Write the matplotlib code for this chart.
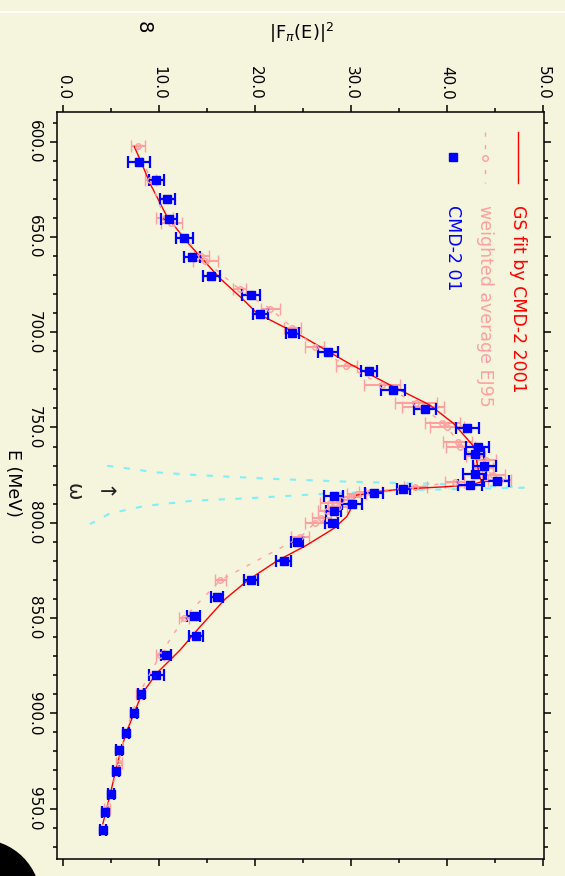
import numpy as np
import matplotlib.pyplot as plt
from matplotlib.ticker import MultipleLocator, FormatStrFormatter
from matplotlib.patches import Ellipse
from matplotlib.lines import Line2D

# CMD-2 01 data: energy (MeV), |F_pi|^2, error
E_cmd = [610.5, 620.3, 630.2, 640.6, 650.6, 660.5, 670.5, 680.6, 690.4, 700.4,
         710.4, 720.2, 730.3, 740.3, 750.5, 760.4, 764.0, 770.2, 774.4, 778.1,
         780.2, 782.5, 784.4, 786.2, 790.2, 793.6, 800.0, 810.1, 820.0, 830.1,
         839.0, 849.2, 859.6, 869.6, 880.0, 889.9, 900.1, 910.2, 919.5, 930.3,
         942.4, 951.9, 961.3]
F_cmd = [7.95, 9.72, 10.86, 11.07, 12.64, 13.47, 15.45, 19.6, 20.55, 23.9,
         27.6, 31.9, 34.4, 37.7, 42.1, 43.2, 42.9, 43.9, 42.9, 45.2,
         42.4, 35.45, 32.4, 28.2, 30.1, 28.2, 28.0, 24.4, 23.0, 19.6,
         16.05, 13.6, 13.85, 10.7, 9.72, 8.09, 7.43, 6.6, 5.87, 5.49,
         5.03, 4.41, 4.2]
dF_cmd = [1.13, 0.75, 0.8, 0.85, 0.9, 0.83, 0.87, 0.95, 0.78, 0.68,
          1.0, 0.83, 1.23, 1.1, 1.2, 1.2, 1.0, 1.2, 1.2, 1.3,
          1.25, 0.7, 0.95, 1.0, 1.0, 0.8, 0.66, 0.6, 0.78, 0.73,
          0.66, 0.7, 0.7, 0.5, 0.76, 0.3, 0.3, 0.3, 0.3, 0.3,
          0.3, 0.3, 0.3]

# weighted average EJ95
E_ej = [602.0, 620.1, 640.2, 642.5, 660.0, 662.5, 677.5, 687.7, 697.6, 707.6,
        717.6, 727.6, 737.3, 739.4, 747.5, 749.6, 757.5, 760.1, 765.0, 767.0,
        771.5, 775.0, 777.6, 778.5, 781.4, 783.6, 785.0, 786.5, 788.0, 789.7,
        791.6, 794.0, 797.7, 800.0, 807.7, 830.1, 849.9, 869.6, 889.9, 910.0,
        926.0, 950.0]
F_ej = [7.8, 9.1, 10.6, 11.3, 14.4, 14.8, 18.4, 21.6, 23.9, 26.2,
        29.5, 33.2, 36.8, 37.5, 39.5, 40.0, 41.1, 41.4, 43.0, 44.1,
        43.8, 44.8, 45.5, 40.8, 36.7, 32.0, 30.6, 30.0, 29.0, 27.8,
        28.6, 27.5, 26.9, 26.25, 24.7, 16.4, 12.6, 10.1, 7.9, 6.5,
        5.8, 4.6]
dF_ej = [0.7, 0.6, 0.9, 1.1, 0.8, 1.3, 0.7, 1.0, 0.9, 0.95,
         1.1, 1.9, 2.2, 2.2, 1.8, 1.8, 1.5, 1.5, 1.0, 1.0,
         1.0, 1.2, 1.2, 1.0, 1.2, 1.2, 1.0, 1.0, 1.0, 1.0,
         1.0, 0.9, 1.0, 1.0, 0.9, 0.6, 0.5, 0.4, 0.3, 0.3,
         0.3, 0.3]

# GS fit curve
E_fit = [602.6, 611.4, 621.9, 639.0, 652.5, 671.7, 683.0, 690.0, 702.4, 716.7,
         727.7, 738.2, 747.8, 755.7, 760.1, 768.0, 775.9, 778.5, 780.2, 781.2,
         782.3, 783.5, 785.5, 788.0, 790.7, 793.5, 796.8, 803.0, 812.0, 820.0,
         830.0, 840.0, 855.0, 866.8, 879.0, 890.0, 900.0, 910.0, 920.0, 930.0,
         945.0, 958.0]
F_fit = [7.43, 8.2, 9.06, 10.8, 12.9, 16.35, 18.8, 20.2, 25.0, 29.9,
         34.06, 38.2, 40.66, 42.05, 42.8, 43.1, 43.4, 43.6, 42.4, 39.5,
         35.45, 33.0, 30.6, 30.2, 30.06, 29.9, 29.55, 28.2, 25.3, 22.3,
         19.3, 16.9, 14.2, 12.2, 9.76, 8.2, 7.4, 6.6, 6.0, 5.5,
         4.8, 4.15]

# omega peak (cyan dashed)
E_om = [770.1, 772.0, 773.5, 775.0, 777.0, 778.5, 779.5, 780.5, 781.6,
        782.8, 785.0, 787.2, 788.4, 791.3, 795.1, 800.7]
F_om = [4.6, 7.5, 9.5, 14.0, 22.0, 30.0, 38.0, 44.0, 48.0,
        36.8, 26.6, 19.0, 13.6, 8.4, 4.9, 2.8]

bg = '#f5f4dc'
red = '#ff0000'
pink = '#ffa0a0'
blue = '#0000ff'
cyan = '#80f0f8'

W, H = 565, 876
fig = plt.figure(figsize=(W / 100, H / 100), dpi=100, facecolor=bg)
ax = fig.add_axes([57 / W, (H - 859) / H, 487 / W, 747 / H], facecolor=bg)

ax.plot(F_om, E_om, color=cyan, lw=1.5, dashes=(3, 5))
ax.errorbar(F_ej, E_ej, xerr=dF_ej, color=pink, ecolor=pink, lw=1.0, dashes=(3, 6),
            elinewidth=1.5, capsize=4, marker='o', ms=4, mfc='none', mec=pink, mew=1.0)
ax.plot(F_fit, E_fit, color=red, lw=1.0)
ax.errorbar(F_cmd, E_cmd, xerr=dF_cmd, fmt='s', color=blue, ecolor=blue, ms=6,
            elinewidth=1.6, capsize=4, capthick=1.6)

ax.set_xlim(-0.625, 50.1)
ax.set_ylim(976.5, 584.4)

ax.xaxis.set_major_locator(MultipleLocator(10))
ax.xaxis.set_minor_locator(MultipleLocator(5))
ax.yaxis.set_major_locator(MultipleLocator(50))
ax.yaxis.set_minor_locator(MultipleLocator(10))
ax.xaxis.set_major_formatter(FormatStrFormatter('%.1f'))
ax.yaxis.set_major_formatter(FormatStrFormatter('%.1f'))
ax.tick_params(axis='x', which='both', direction='out', top=True, bottom=True,
               labeltop=True, labelbottom=False, labelsize=11, pad=4)
ax.tick_params(axis='y', which='both', direction='out', left=True, right=True,
               labelsize=11, pad=6)
ax.tick_params(which='major', length=5, width=1.1)
ax.tick_params(which='minor', length=3, width=1.1)
for lab in ax.get_xticklabels():
    lab.set_rotation(-90)
    lab.set_va('bottom')
    lab.set_ha('center')
for lab in ax.get_yticklabels():
    lab.set_rotation(-90)
    lab.set_va('center')
for s in ax.spines.values():
    s.set_linewidth(1.1)

# legend drawn by hand, rotated like the rest of the picture
tr = ax.transAxes
ax.add_line(Line2D([0.9466, 0.9466], [0.973, 0.905], color=red, lw=1.0, transform=tr))
ax.text(0.9466, 0.8755, 'GS fit by CMD-2 2001', color=red, rotation=-90,
        ha='center', va='top', fontsize=12.5, transform=tr)
ax.add_line(Line2D([0.8789, 0.8789], [0.973, 0.905], color=pink, lw=1.0,
                   dashes=(3, 6), transform=tr))
ax.plot([0.8789], [0.9384], marker='o', ms=4, mfc=bg, mec=pink, transform=tr)
ax.text(0.8789, 0.8755, 'weighted average EJ95', color=pink, rotation=-90,
        ha='center', va='top', fontsize=12.5, transform=tr)
ax.plot([0.8131], [0.9398], marker='s', ms=6, color=blue, transform=tr)
ax.text(0.8131, 0.8755, 'CMD-2 01', color=blue, rotation=-90,
        ha='center', va='top', fontsize=12.5, transform=tr)

# omega marker
fig.text(74 / W, 1 - 492 / H, '\u03c9', rotation=-90, ha='center', va='center',
         fontsize=15, color='#222222')
fig.text(109 / W, 1 - 492 / H, '\u2192', ha='center', va='center',
         fontsize=15, color='#222222')

# axis titles
fig.text(302 / W, 1 - 33 / H, r'|F$_\pi$(E)|$^2$', ha='center', va='center', fontsize=13)
fig.text(13 / W, 1 - 483 / H, 'E (MeV)', rotation=-90, ha='center', va='center', fontsize=12.5)

# page bits around the chart
fig.add_artist(Line2D([0, 1], [1 - 12 / H, 1 - 12 / H], color='white', lw=1.2))
fig.text(143 / W, 1 - 27 / H, '8', rotation=-90, ha='center', va='center', fontsize=14)
fig.add_artist(Ellipse((-20 / W, 1 - 900 / H), 120 / W, 120 / H, color='black'))

fig.savefig('out.png', dpi=100, facecolor=bg)
